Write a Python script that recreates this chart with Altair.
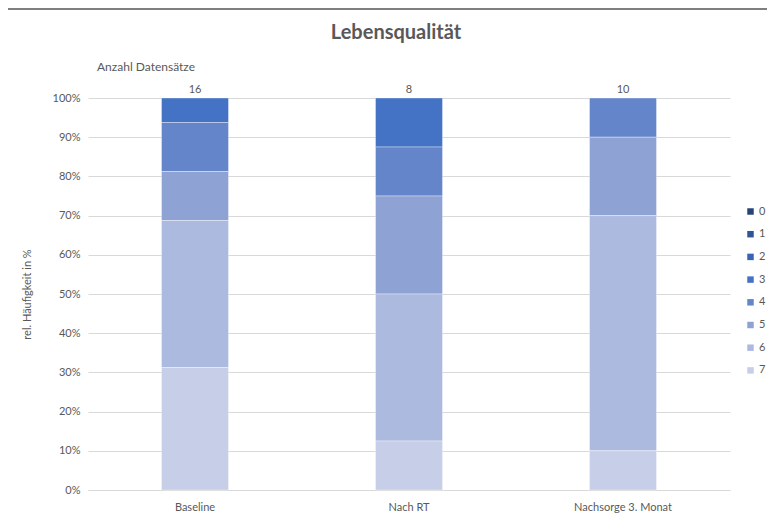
import altair as alt
import pandas as pd

categories = ["Baseline", "Nach RT", "Nachsorge 3. Monat"]
levels = ["0", "1", "2", "3", "4", "5", "6", "7"]
baseline_counts = [0, 0, 0, 1, 2, 2, 6, 5]
nach_rt_counts = [0, 0, 0, 1, 1, 2, 3, 1]
nachsorge_counts = [0, 0, 0, 0, 1, 2, 6, 1]
totals = [16, 8, 10]
level_colors = ["#264478", "#2F5597", "#3764B6", "#4472C4",
                "#6585CB", "#8FA2D4", "#ADBADF", "#C7CFE8"]

rows = []
for cat, cnts in zip(categories, [baseline_counts, nach_rt_counts, nachsorge_counts]):
    for lv, c in zip(levels, cnts):
        if c > 0:
            rows.append({"Kategorie": cat, "Stufe": lv, "Stufe_n": int(lv), "Anzahl": c})
df = pd.DataFrame(rows)
tot_df = pd.DataFrame({"Kategorie": categories, "n": [str(t) for t in totals]})

FONT = "Lato"
GREY = "#595959"
W, H = 642, 392

x_enc = alt.X(
    "Kategorie:N",
    sort=categories,
    scale=alt.Scale(domain=categories, paddingInner=0.687, paddingOuter=0.3435),
    axis=alt.Axis(title=None, labelAngle=0, ticks=False, domainColor="#D9D9D9",
                  labelPadding=11, labelFontSize=11, labelColor=GREY, labelFont=FONT),
)

bars = alt.Chart(df).mark_bar(stroke="white", strokeWidth=0.35).encode(
    x=x_enc,
    y=alt.Y(
        "Anzahl:Q",
        stack="normalize",
        scale=alt.Scale(domain=[0, 1]),
        axis=alt.Axis(
            values=[i / 10 for i in range(11)], format=".0%",
            title="rel. Häufigkeit in %", titleAngle=-90, titleX=-56, titleY=H / 2,
            titleFontWeight="normal", titleFontSize=11, titleColor=GREY, titleFont=FONT,
            labelFontSize=11, labelColor=GREY, labelFont=FONT, labelPadding=8,
            ticks=False, domain=False, gridColor="#D9D9D9",
        ),
    ),
    color=alt.Color(
        "Stufe:N",
        scale=alt.Scale(domain=levels, range=level_colors),
        legend=alt.Legend(
            title=None, orient="none", legendX=657, legendY=108,
            symbolType="square", symbolSize=42, symbolStrokeWidth=0,
            labelFontSize=11, labelColor=GREY, labelFont=FONT, rowPadding=10.7,
            labelOffset=3,
        ),
    ),
    order=alt.Order("Stufe_n:Q", sort="descending"),
)

counts = alt.Chart(tot_df).mark_text(fontSize=11, color=GREY, font=FONT, baseline="middle").encode(
    x=alt.X("Kategorie:N", sort=categories),
    y=alt.value(-8),
    text="n:N",
)

anzahl = alt.Chart(pd.DataFrame({"t": ["Anzahl Datensätze"]})).mark_text(
    fontSize=12, color=GREY, font=FONT, align="left", baseline="middle"
).encode(text="t:N", x=alt.value(9), y=alt.value(-31))

title = alt.Chart(pd.DataFrame({"t": ["Lebensqualität"]})).mark_text(
    fontSize=20, fontWeight="bold", color=GREY, font=FONT, align="center", baseline="middle"
).encode(text="t:N", x=alt.value(308), y=alt.value(-65))

border = alt.Chart(pd.DataFrame({"a": [0]})).mark_rule(color="#7F7F7F", strokeWidth=2).encode(
    x=alt.value(-80), x2=alt.value(W + 37), y=alt.value(-89)
)

chart = alt.layer(bars, counts, anzahl, title, border).properties(
    width=W, height=H,
    autosize=alt.AutoSizeParams(type="none"),
    padding={"left": 80, "top": 90, "right": 37, "bottom": 27},
    background="white",
).configure_view(stroke=None)

chart.save("out.html", embed_options={"renderer": "svg", "actions": False})
